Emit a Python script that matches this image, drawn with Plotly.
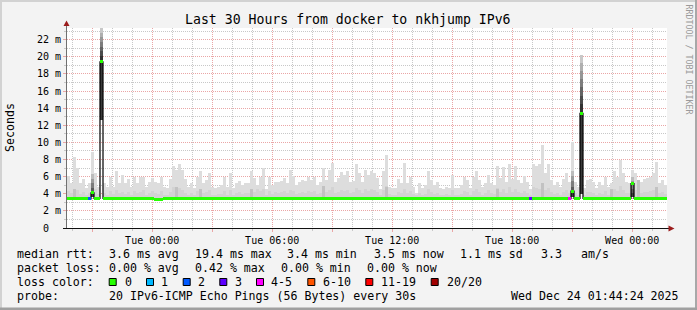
import plotly.graph_objects as go
import pandas as pd

# ------------------------------------------------------------------ data
END_TIME = "2025-12-24 01:44:24"
SPAN_HOURS = 30
STEP_MINUTES = 9

# upper edge of the smoke (ms), one value per 9-minute step
smoke_top = [
    6.1, 5.2, 8.3, 7.0, 5.2, 5.7, 4.7, 5.3, 8.9, 6.4, 4.8, 23.35, 5.2, 4.8, 5.9, 4.8, 6.7, 5.2, 6.2, 5.2,
    5.7, 4.8, 6.0, 5.2, 5.9, 5.9, 4.8, 5.4, 5.8, 5.4, 5.3, 6.0, 4.8, 4.7, 5.7, 7.2, 6.8, 7.5, 6.8, 5.7,
    4.8, 5.3, 4.7, 6.0, 6.6, 5.3, 5.6, 6.4, 4.8, 4.7, 4.8, 5.0, 6.0, 4.8, 6.4, 4.7, 5.2, 5.5, 5.0, 5.2,
    5.3, 6.7, 5.8, 5.0, 6.0, 7.0, 4.5, 6.0, 5.0, 5.4, 5.4, 5.5, 5.8, 5.2, 6.8, 6.1, 5.0, 5.4, 5.6, 5.5,
    6.0, 5.6, 5.9, 5.0, 5.4, 7.0, 5.6, 6.8, 7.6, 5.4, 5.8, 6.5, 6.2, 6.6, 5.4, 5.5, 7.5, 6.4, 5.4, 6.8,
    6.2, 6.7, 6.4, 5.8, 4.5, 6.6, 8.5, 4.8, 4.7, 4.7, 5.7, 5.2, 7.6, 5.2, 6.0, 4.8, 4.1, 5.2, 4.7, 5.0,
    6.6, 5.6, 5.0, 5.4, 4.7, 4.5, 4.8, 4.7, 6.2, 4.7, 4.7, 5.0, 6.0, 5.6, 4.7, 6.0, 6.6, 5.6, 4.8, 5.2,
    6.2, 5.3, 5.0, 7.2, 5.8, 7.1, 5.4, 7.5, 5.7, 7.2, 5.6, 5.3, 6.1, 5.4, 4.5, 7.5, 7.3, 7.5, 9.7, 6.4,
    7.5, 5.6, 5.0, 5.4, 4.8, 5.7, 6.4, 5.4, 10.0, 5.4, 4.8, 20.2, 4.7, 5.6, 5.7, 5.4, 4.7, 5.4, 5.0, 6.0,
    4.8, 5.2, 6.6, 6.0, 7.9, 6.4, 5.4, 5.2, 6.8, 6.4, 5.4, 5.4, 5.7, 5.8, 6.0, 6.4, 7.7, 5.2, 5.6, 5.0,
]

# upper edge of the denser (darker) part of the smoke (ms)
smoke_core_top = [
    4.3, 4.1, 4.6, 4.4, 4.0, 4.2, 3.9, 4.1, 4.3, 4.5, 4.0, 3.5, 4.1, 3.9, 4.3, 4.0, 4.4, 4.1, 4.2, 4.0,
    4.2, 3.9, 4.3, 4.1, 4.2, 4.4, 3.9, 4.1, 4.3, 4.1, 4.0, 4.3, 3.9, 3.9, 4.2, 4.8, 4.5, 4.7, 4.4, 4.1,
    3.9, 4.1, 3.9, 4.3, 4.5, 4.1, 4.2, 4.4, 3.9, 3.9, 4.0, 4.0, 4.3, 3.9, 4.4, 3.9, 4.1, 4.2, 4.0, 4.1,
    4.1, 4.6, 4.2, 4.5, 4.3, 4.6, 3.8, 4.3, 4.0, 4.2, 4.1, 4.2, 4.3, 4.1, 4.4, 4.3, 4.0, 4.1, 4.2, 4.1,
    4.3, 4.2, 4.3, 4.0, 4.1, 4.6, 4.2, 4.4, 4.8, 4.1, 4.2, 4.4, 4.3, 4.4, 4.1, 4.2, 4.7, 4.4, 4.1, 4.5,
    4.3, 4.5, 4.4, 4.2, 3.8, 4.4, 4.9, 4.0, 3.9, 3.9, 4.2, 4.1, 4.6, 4.1, 4.3, 4.0, 3.8, 4.1, 3.9, 4.0,
    4.5, 4.2, 4.0, 4.1, 3.9, 3.8, 4.0, 3.9, 4.4, 3.9, 3.9, 4.0, 4.3, 4.2, 3.9, 4.3, 4.5, 4.2, 3.9, 4.1,
    4.4, 4.1, 4.0, 4.7, 4.2, 4.6, 4.1, 4.8, 4.2, 4.6, 4.2, 4.1, 4.3, 4.1, 3.8, 4.8, 4.7, 4.6, 5.0, 4.4,
    4.7, 4.2, 4.0, 4.1, 3.9, 4.2, 4.4, 4.1, 4.3, 4.1, 3.9, 3.5, 3.9, 4.2, 4.2, 4.1, 3.9, 4.1, 4.0, 4.3,
    3.9, 4.5, 4.5, 4.3, 4.9, 4.4, 4.1, 4.1, 4.3, 4.4, 4.6, 4.1, 4.2, 4.2, 4.3, 4.4, 4.8, 4.1, 4.2, 4.0,
]

# median round-trip time (ms)
median_rtt = [
    3.46, 3.46, 3.45, 3.45, 3.46, 3.46, 3.45, 3.40, 4.10, 3.46, 3.46, 19.40, 3.47, 3.47, 3.46, 3.46, 3.45, 3.45, 3.46, 3.46,
    3.46, 3.45, 3.45, 3.46, 3.46, 3.45, 3.45, 3.44, 3.40, 3.38, 3.37, 3.38, 3.40, 3.43, 3.44, 3.45, 3.45, 3.46, 3.46, 3.45,
    3.45, 3.44, 3.45, 3.46, 3.46, 3.45, 3.45, 3.45, 3.44, 3.44, 3.45, 3.46, 3.46, 3.45, 3.45, 3.44, 3.45, 3.47, 3.47, 3.46,
    3.46, 3.45, 3.45, 3.44, 3.45, 3.46, 3.45, 3.45, 3.46, 3.46, 3.45, 3.45, 3.46, 3.46, 3.45, 3.45, 3.44, 3.45, 3.45, 3.46,
    3.46, 3.45, 3.45, 3.44, 3.44, 3.45, 3.46, 3.46, 3.45, 3.45, 3.46, 3.45, 3.44, 3.43, 3.44, 3.45, 3.46, 3.46, 3.45, 3.45,
    3.46, 3.46, 3.45, 3.45, 3.44, 3.45, 3.46, 3.46, 3.45, 3.45, 3.44, 3.45, 3.46, 3.46, 3.45, 3.45, 3.44, 3.45, 3.45, 3.46,
    3.46, 3.45, 3.45, 3.44, 3.45, 3.46, 3.45, 3.45, 3.44, 3.44, 3.45, 3.46, 3.46, 3.45, 3.45, 3.44, 3.45, 3.46, 3.46, 3.45,
    3.45, 3.46, 3.45, 3.45, 3.44, 3.45, 3.46, 3.46, 3.45, 3.45, 3.44, 3.45, 3.46, 3.46, 3.40, 3.45, 3.46, 3.45, 3.44, 3.45,
    3.45, 3.46, 3.46, 3.45, 3.45, 3.44, 3.45, 3.42, 4.30, 3.45, 3.45, 13.40, 3.46, 3.46, 3.45, 3.45, 3.44, 3.45, 3.45, 3.46,
    3.46, 3.45, 3.45, 3.44, 3.45, 3.46, 3.45, 3.45, 5.20, 3.46, 3.45, 3.45, 3.46, 3.46, 3.45, 3.44, 3.45, 3.46, 3.46, 3.45,
]

# steps with lost pings (index, lost of 20)
loss_steps = [7, 154, 167]
loss_counts = [2, 3, 4]

# a few steps with a wide, dense ping spread (index, low ms, high ms)
dense_steps = [8, 168, 188]
dense_low = [3.6, 3.6, 3.6]
dense_high = [6.3, 6.7, 6.0]

# a few slightly darker smoke specks (index, high ms)
speck_steps = [2, 36, 44, 61, 85, 106, 143, 158, 181, 190, 196]
speck_high = [4.6, 4.8, 4.6, 4.5, 4.9, 4.8, 4.6, 5.2, 4.6, 5.6, 4.8]

# latency spikes (index, lower edge of their dense smoke in ms)
spike_steps = [11, 171]
spike_low = [12.6, 4.0]

x_tick_times = ["2025-12-22 21:00", "2025-12-23 00:00", "2025-12-23 03:00", "2025-12-23 06:00",
                "2025-12-23 09:00", "2025-12-23 12:00", "2025-12-23 15:00", "2025-12-23 18:00",
                "2025-12-23 21:00", "2025-12-24 00:00"]
x_tick_labels = ["", "Tue 00:00", "", "Tue 06:00", "", "Tue 12:00", "", "Tue 18:00", "", "Wed 00:00"]
y_tick_values = [0, 2, 4, 6, 8, 10, 12, 14, 16, 18, 20, 22]
y_tick_labels = ["0\u00a0\u00a0", "2 m", "4 m", "6 m", "8 m", "10 m", "12 m", "14 m",
                 "16 m", "18 m", "20 m", "22 m"]

title_text = "Last 30 Hours from docker to nkhjump IPv6"
y_title = "Seconds"
watermark = "RRDTOOL / TOBI OETIKER"
rtt_texts = ["median rtt:", "3.6 ms avg", "19.4 ms max", "3.4 ms min", "3.5 ms now", "1.1 ms sd", "3.3", "am/s"]
loss_texts = ["packet loss:", "0.00 % avg", "0.42 % max", "0.00 % min", "0.00 % now"]
color_head = "loss color:"
loss_levels = ["0", "1", "2", "3", "4-5", "6-10", "11-19", "20/20"]
level_min = [0, 1, 2, 3, 4, 6, 11, 20]
probe_texts = ["probe:", "20 IPv6-ICMP Echo Pings (56 Bytes) every 30s"]
stamp_text = "Wed Dec 24 01:44:24 2025"

# ------------------------------------------------------------------ style
LOSS_COLORS = ["#26ff00", "#00b8ff", "#0059ff", "#5e00ff", "#ff00ff", "#ff5500", "#ff0000", "#a10000"]
MAJOR = "#EAA6A6"
MINOR = "#C8C8C8"
FONT = "DejaVu Sans Mono"

for arr in (smoke_top, smoke_core_top, median_rtt):
    assert len(arr) == len(median_rtt)

end = pd.Timestamp(END_TIME)
start = end - pd.Timedelta(hours=SPAN_HOURS)
step = pd.Timedelta(minutes=STEP_MINUTES)
n = len(median_rtt)
centers = [start + step * (i + 0.5) for i in range(n)]
bw = step.total_seconds() * 1000.0
LINE_H = 0.35  # thickness of the median line in ms (about 3 px)


def level_index(count):
    idx = 0
    for k, m in enumerate(level_min):
        if count >= m:
            idx = k
    return idx


def grey(v):
    v = int(round(v))
    return "#%02x%02x%02x" % (v, v, v)


def bar(xs, ys, bs, color, z=0):
    return go.Bar(x=xs, y=ys, base=bs, width=bw, marker=dict(color=color, line=dict(width=0)),
                  hoverinfo="skip", zorder=z)


fig = go.Figure()

# light smoke
fig.add_trace(bar(centers, [t - m for t, m in zip(smoke_top, median_rtt)], median_rtt, "#DDDDDD"))
# denser smoke core
fig.add_trace(bar(centers, [max(c - m, 0) for c, m in zip(smoke_core_top, median_rtt)], median_rtt, "#D3D3D3"))
# darker specks
fig.add_trace(bar([centers[i] for i in speck_steps],
                  [h - median_rtt[i] for i, h in zip(speck_steps, speck_high)],
                  [median_rtt[i] for i in speck_steps], "#C2C2C2"))
# dense wide spreads, shaded darker toward the bottom
NSEG = 5
for k in range(NSEG):
    xs, ys, bs = [], [], []
    for i, lo, hi in zip(dense_steps, dense_low, dense_high):
        a = lo + (hi - lo) * k / NSEG
        b = lo + (hi - lo) * (k + 1) / NSEG
        xs.append(centers[i]); ys.append(b - a); bs.append(a)
    fig.add_trace(bar(xs, ys, bs, grey(60 + 32 * k)))
# spikes: dense part below the median
fig.add_trace(bar([centers[i] for i in spike_steps],
                  [median_rtt[i] - lo for i, lo in zip(spike_steps, spike_low)],
                  spike_low, "#3A3A3A"))
# spikes: fading smoke above the median
NG = 7
for k in range(NG):
    xs, ys, bs = [], [], []
    for i in spike_steps:
        lo = median_rtt[i] + LINE_H / 2
        hi = smoke_top[i]
        a = lo + (hi - lo) * k / NG
        b = lo + (hi - lo) * (k + 1) / NG
        xs.append(centers[i]); ys.append(b - a); bs.append(a)
    fig.add_trace(bar(xs, ys, bs, grey(50 + 25 * k)))

# thin dark median outline (shows the vertical jumps)
fig.add_trace(go.Scatter(x=centers, y=median_rtt, mode="lines",
                         line=dict(color="#000000", width=1.2, shape="hvh"),
                         hoverinfo="skip", zorder=1))

# median line coloured by loss
loss_of = {i: c for i, c in zip(loss_steps, loss_counts)}
groups = {}
for i in range(n):
    groups.setdefault(level_index(loss_of.get(i, 0)), []).append(i)
for lvl, idxs in groups.items():
    fig.add_trace(bar([centers[i] for i in idxs], [LINE_H] * len(idxs),
                      [median_rtt[i] - LINE_H / 2 for i in idxs], LOSS_COLORS[lvl], z=2))

# ------------------------------------------------------------------ layout
W, H = 697, 310
L, R, T, B = 67, 30, 28, 82
PW, PH = W - L - R, H - T - B


def px(x):
    return (x - L) / PW


def py(y):
    return (H - B - y) / PH


shapes = []
# frame shading
shapes.append(dict(type="rect", xref="paper", yref="paper", x0=px(0), x1=px(W), y0=py(0), y1=py(2),
                   fillcolor="#D2D2D2", line=dict(width=0), layer="below"))
shapes.append(dict(type="rect", xref="paper", yref="paper", x0=px(0), x1=px(2), y0=py(0), y1=py(H),
                   fillcolor="#D2D2D2", line=dict(width=0), layer="below"))
shapes.append(dict(type="rect", xref="paper", yref="paper", x0=px(W - 2), x1=px(W), y0=py(0), y1=py(H),
                   fillcolor="#A8A8A8", line=dict(width=0), layer="below"))
shapes.append(dict(type="rect", xref="paper", yref="paper", x0=px(0), x1=px(W), y0=py(H - 2.5), y1=py(H),
                   fillcolor="#A0A0A0", line=dict(width=0), layer="below"))
# axes
shapes.append(dict(type="line", xref="paper", yref="paper", x0=px(66.5), x1=px(66.5), y0=py(229), y1=py(25),
                   line=dict(color="#707070", width=1)))
shapes.append(dict(type="line", xref="paper", yref="paper", x0=px(63), x1=px(669), y0=py(228.5), y1=py(228.5),
                   line=dict(color="#101010", width=1)))
shapes.append(dict(type="path", xref="paper", yref="paper",
                   path="M %f %f L %f %f L %f %f Z" % (px(66.5), py(20.5), px(63.5), py(26), px(69.5), py(26)),
                   fillcolor="#9B1C1C", line=dict(width=0)))
shapes.append(dict(type="path", xref="paper", yref="paper",
                   path="M %f %f L %f %f L %f %f Z" % (px(674.5), py(228.5), px(668.5), py(225.5), px(668.5), py(231.5)),
                   fillcolor="#9B1C1C", line=dict(width=0)))

ann = []


def text(s, x, y, size=11.6, anchor="left", color="#000000", angle=0):
    ann.append(dict(text=s, x=px(x), y=py(y), xref="paper", yref="paper", showarrow=False,
                    xanchor=anchor, yanchor="middle", textangle=angle,
                    font=dict(family=FONT, size=size, color=color)))


text(title_text, 347.7, 19.3, size=13.2, anchor="center")
text(y_title, 10, 128, size=11.6, anchor="center", angle=-90)
text(watermark, 688.5, 59, size=8.3, anchor="center", color="#9A9A9A", angle=90)

rtt_x = [16, 107.3, 193.3, 286, 372.7, 458.3, 540, 579.3]
for s, x in zip(rtt_texts, rtt_x):
    text(s, x - 0.8, 254)
loss_x = [16, 107.3, 193.3, 279.3, 366]
for s, x in zip(loss_texts, loss_x):
    text(s, x - 0.8, 268.3)
text(color_head, 15.2, 282.3)
box_x = [108.7, 146, 182.7, 219.3, 256, 307.3, 365.3, 430.7]
lab_x = [123.3, 160, 196.7, 233.3, 270, 321.7, 380, 445.3]
for s, bx, lx, col in zip(loss_levels, box_x, lab_x, LOSS_COLORS):
    shapes.append(dict(type="rect", xref="paper", yref="paper", x0=px(bx + 0.5), x1=px(bx + 7.5),
                       y0=py(278.5), y1=py(285.5), fillcolor=col, line=dict(color="#000000", width=1)))
    text(s, lx - 0.8, 282.3)
text(probe_texts[0], 15.2, 296)
text(probe_texts[1], 106.5, 296)
text(stamp_text, 680.5, 296, anchor="right")

fig.update_layout(
    width=W, height=H, margin=dict(l=L, r=R, t=T, b=B, pad=0),
    paper_bgcolor="#F3F3F3", plot_bgcolor="#FFFFFF",
    barmode="overlay", bargap=0, showlegend=False,
    font=dict(family=FONT, size=10, color="#000000"),
    shapes=shapes, annotations=ann,
    xaxis=dict(type="date", range=[start, end], tickmode="array", tickvals=x_tick_times,
               ticktext=x_tick_labels, showgrid=True, gridcolor=MAJOR, griddash="1px,1px", gridwidth=1,
               ticks="outside", ticklen=3, tickcolor=MAJOR, showline=False, zeroline=False,
               tickfont=dict(family=FONT, size=10, color="#000000"),
               minor=dict(tickmode="linear", tick0="2025-12-23 00:00", dtick=3600000, showgrid=True,
                          gridcolor=MINOR, griddash="1px,1px", ticks="outside", ticklen=2, tickcolor=MINOR)),
    yaxis=dict(range=[0, 23.36], tickmode="array", tickvals=y_tick_values, ticktext=y_tick_labels,
               showgrid=True, gridcolor=MAJOR, griddash="1px,1px", gridwidth=1,
               ticks="outside", ticklen=3, tickcolor=MAJOR, showline=False, zeroline=False,
               tickfont=dict(family=FONT, size=10, color="#000000"),
               minor=dict(tickmode="linear", tick0=0, dtick=1, showgrid=True, gridcolor=MINOR,
                          griddash="1px,1px", ticks="outside", ticklen=2, tickcolor=MINOR)),
)

fig.write_html("out.html")
